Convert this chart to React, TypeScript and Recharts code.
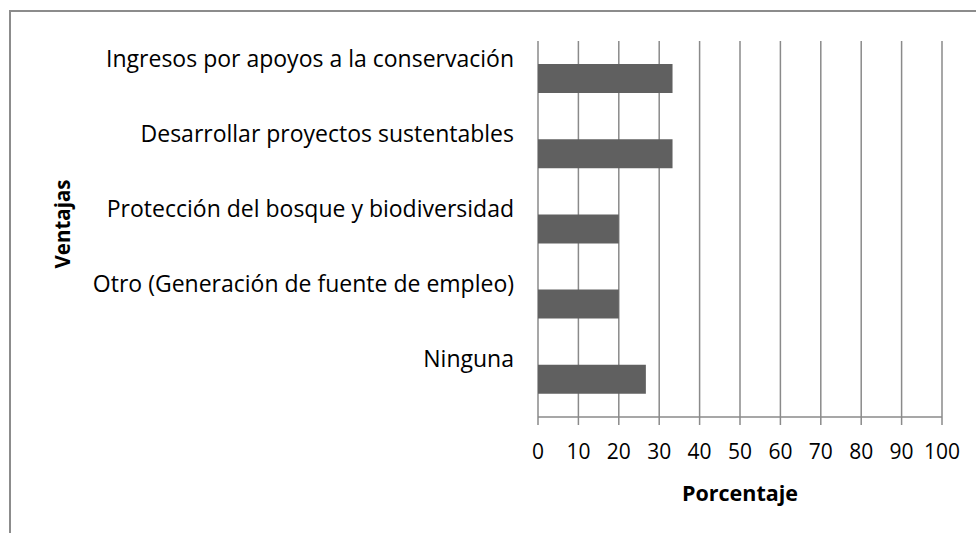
import { BarChart, Bar, XAxis, YAxis, CartesianGrid } from 'recharts';

const categories = [
  'Ingresos por apoyos a la conservación',
  'Desarrollar proyectos sustentables',
  'Protección del bosque y biodiversidad',
  'Otro (Generación de fuente de empleo)',
  'Ninguna',
];
const percentages = [33.3, 33.3, 20, 20, 26.7];
const xTicks = [0, 10, 20, 30, 40, 50, 60, 70, 80, 90, 100];

const FONT = '"Open Sans", sans-serif';
const GRID = '#8a8a8a';
const BAR = '#606060';

const data = categories.map((name, i) => ({ name, value: percentages[i] }));

// category labels sit a bit above the band centre, like the Excel original
function CategoryTick(props: any) {
  const { x, y, payload } = props;
  return (
    <text x={x} y={y - 12} textAnchor="end" fontSize={23} fontFamily={FONT} fill="#000">
      {payload.value}
    </text>
  );
}

export default function App() {
  return (
    <div style={{ position: 'absolute', left: 0, top: 0, width: 976, height: 533, background: '#fff', overflow: 'hidden' }}>
      <div
        style={{
          position: 'absolute',
          left: 9,
          top: 10,
          width: 1000,
          height: 600,
          borderTop: '2px solid #8c8c8c',
          borderLeft: '2px solid #8c8c8c',
        }}
      />
      <div style={{ position: 'absolute', left: 0, top: 0 }}>
        <BarChart
          width={976}
          height={533}
          data={data}
          layout="vertical"
          margin={{ top: 41, right: 34, bottom: 56, left: 0 }}
        >
          <CartesianGrid horizontal={false} stroke={GRID} strokeWidth={1.5} />
          <XAxis
            type="number"
            domain={[0, 100]}
            ticks={xTicks}
            interval={0}
            height={60}
            stroke={GRID}
            strokeWidth={1.5}
            tickSize={8}
            tickMargin={19}
            tick={{ fill: '#000', fontSize: 21, fontFamily: FONT }}
            label={{
              content: ({ viewBox }: any) => (
                <text
                  x={viewBox.x + viewBox.width / 2}
                  y={viewBox.y + 75}
                  textAnchor="middle"
                  dominantBaseline="central"
                  fontSize={21.5}
                  fontWeight="bold"
                  fontFamily={FONT}
                  fill="#000"
                >
                  Porcentaje
                </text>
              ),
            }}
          />
          <YAxis
            type="category"
            dataKey="name"
            width={538}
            axisLine={false}
            tickLine={false}
            tickSize={0}
            tickMargin={24}
            interval={0}
            tick={<CategoryTick />}
            label={{
              content: ({ viewBox }: any) => {
                const cx = viewBox.x + 62;
                const cy = viewBox.y + viewBox.height / 2 - 5;
                return (
                  <text
                    x={cx}
                    y={cy}
                    transform={`rotate(-90 ${cx} ${cy})`}
                    textAnchor="middle"
                    dominantBaseline="central"
                    fontSize={20.5}
                    fontWeight="bold"
                    fontFamily={FONT}
                    fill="#000"
                  >
                    Ventajas
                  </text>
                );
              },
            }}
          />
          <Bar dataKey="value" fill={BAR} barSize={29} isAnimationActive={false} />
        </BarChart>
      </div>
    </div>
  );
}
